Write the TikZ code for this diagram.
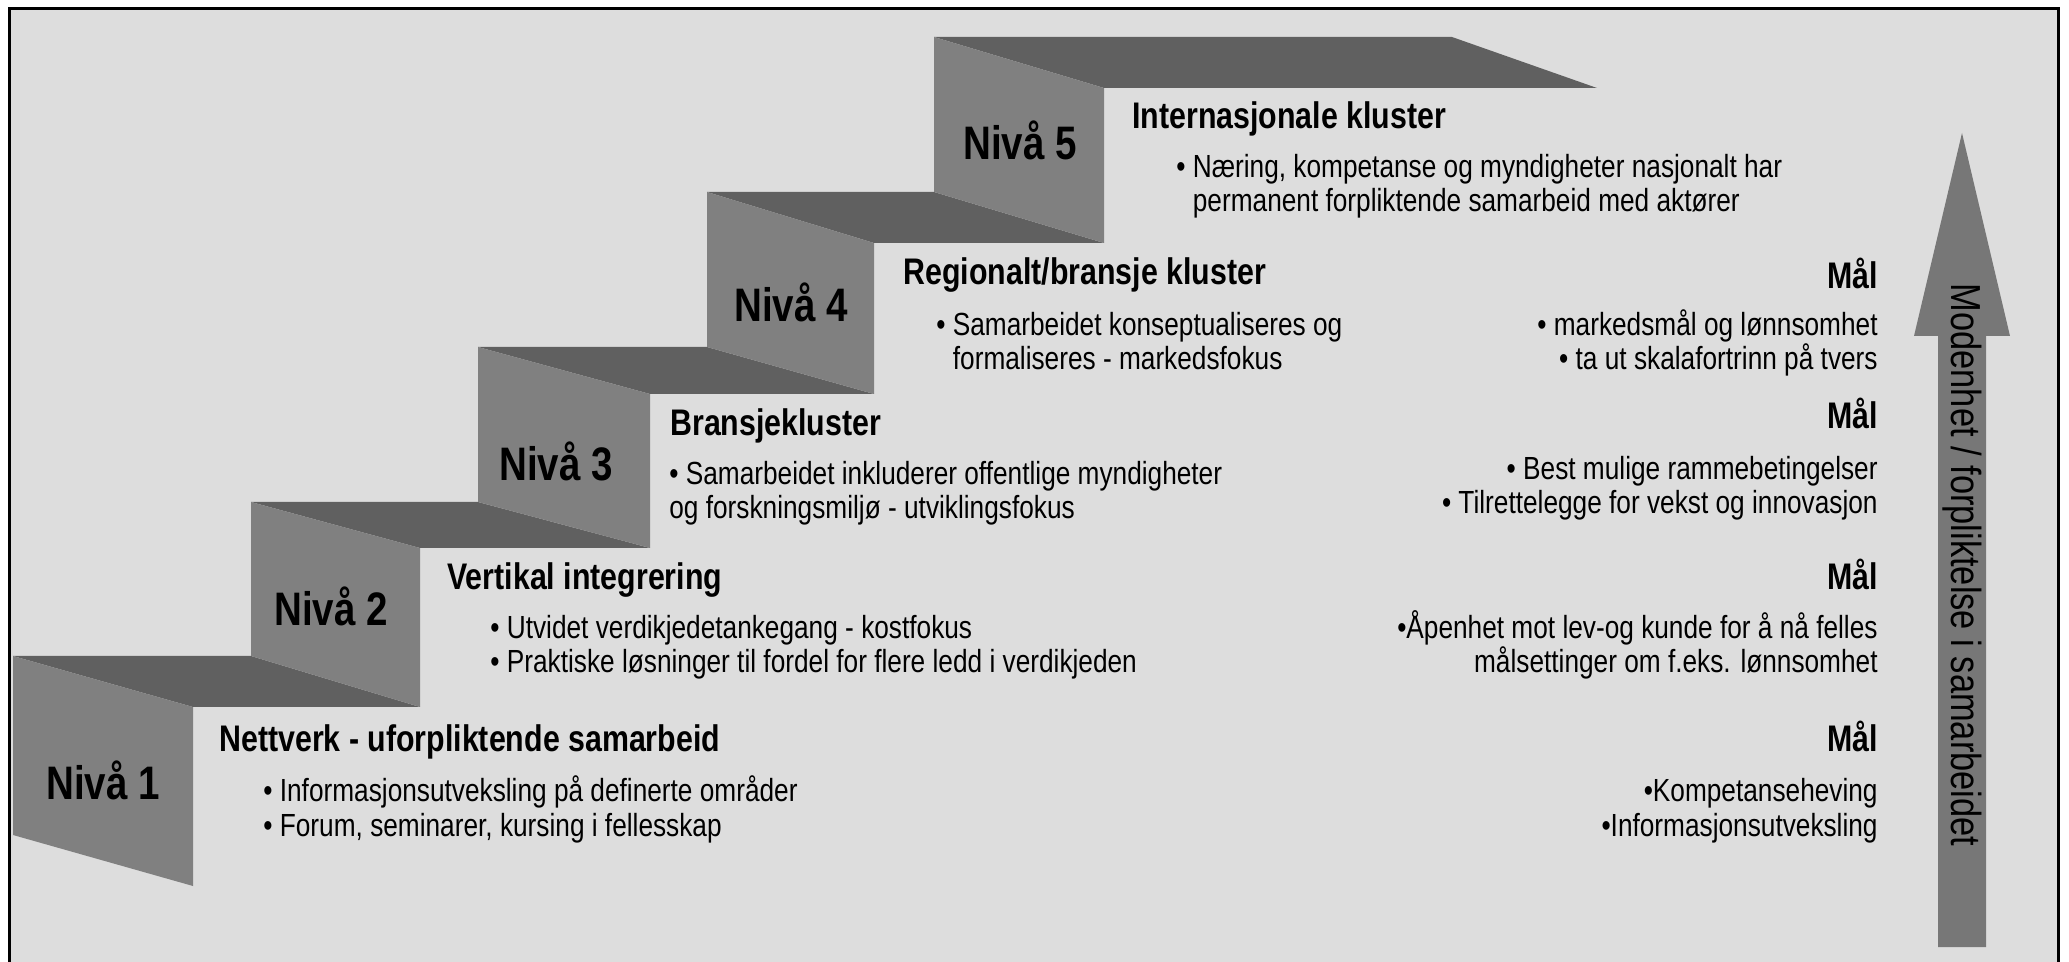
\documentclass[tikz,border=0pt]{standalone}
\usepackage{fontspec}
\setmainfont{Liberation Sans}[FakeStretch=0.82]
\definecolor{backgr}{HTML}{DDDDDD}
\definecolor{riserg}{HTML}{808080}
\definecolor{treadg}{HTML}{606060}
\definecolor{arrowg}{HTML}{777777}
\begin{document}
\begin{tikzpicture}[x=0.5pt, y=-0.5pt,
    riser/.style ={fill=riserg},
    tread/.style ={fill=treadg},
    level/.style ={font=\fontsize{23.5}{28}\selectfont\bfseries, anchor=base},
    heading/.style ={font=\fontsize{18.5}{22}\selectfont\bfseries, anchor=base west, inner sep=0pt},
    bodytext/.style ={font=\fontsize{16}{17.25}\selectfont, align=left, anchor=base west, inner sep=0pt},
    goal/.style ={font=\fontsize{18.5}{22}\selectfont\bfseries, anchor=base east, inner sep=0pt},
    goaltext/.style ={font=\fontsize{16}{17.25}\selectfont, align=right, anchor=base east, inner sep=0pt}]
   \useasboundingbox (0,0) rectangle (2069,962);
   \fill[backgr] (9.5,8.5) rectangle (2058.5,962);
   \draw[line width=1.5pt] (9.5,975) -- (9.5,8.5) -- (2058.5,8.5) -- (2058.5,975);
   % treads
   \fill[tread] (13,656) -- (251,656) -- (420,707) -- (193,707) -- cycle;
   \fill[tread] (251,502) -- (478,502) -- (650,548) -- (420,548) -- cycle;
   \fill[tread] (478,347) -- (707,347) -- (874,394) -- (650,394) -- cycle;
   \fill[tread] (707,192) -- (934,192) -- (1104,243) -- (874,243) -- cycle;
   \fill[tread] (934,37) -- (1452,37) -- (1597,88) -- (1104,88) -- cycle;
   % risers
   \fill[riser] (13,656) -- (193,707) -- (193,886) -- (13,835) -- cycle;
   \fill[riser] (251,502) -- (420,548) -- (420,707) -- (251,656) -- cycle;
   \fill[riser] (478,347) -- (650,394) -- (650,548) -- (478,502) -- cycle;
   \fill[riser] (707,192) -- (874,243) -- (874,394) -- (707,347) -- cycle;
   \fill[riser] (934,37) -- (1104,88) -- (1104,243) -- (934,192) -- cycle;
   \node[level] (n1) at (103,799) {Nivå 1};
   \node[level] (n2) at (331,626) {Nivå 2};
   \node[level] (n3) at (556,481) {Nivå 3};
   \node[level] (n4) at (791,322) {Nivå 4};
   \node[level] (n5) at (1020,160) {Nivå 5};
   \node[heading] (h1) at (219,751) {Nettverk - uforpliktende samarbeid};
   \node[heading] (h2) at (447,590) {Vertikal integrering};
   \node[heading] (h3) at (670,436) {Bransjekluster};
   \node[heading] (h4) at (903,285) {Regionalt/bransje kluster};
   \node[heading] (h5) at (1132,129) {Internasjonale kluster};
   \node[bodytext] (b1) at (263,836) {• Informasjonsutveksling på definerte områder\\• Forum, seminarer, kursing i fellesskap};
   \node[bodytext] (b2) at (490,673) {• Utvidet verdikjedetankegang - kostfokus\\• Praktiske løsninger til fordel for flere ledd i verdikjeden};
   \node[bodytext] (b3) at (669,519) {• Samarbeidet inkluderer offentlige myndigheter\\og forskningsmiljø - utviklingsfokus};
   \node[bodytext] (b4) at (936,370) {• Samarbeidet konseptualiseres og\\\phantom{•\ }formaliseres - markedsfokus};
   \node[bodytext] (b5) at (1176,212) {• Næring, kompetanse og myndigheter nasjonalt har\\\phantom{•\ }permanent forpliktende samarbeid med aktører};
   % goals
   \node[goal] (g4) at (1878,289) {Mål};
   \node[goaltext] (t4) at (1878,370) {• markedsmål og lønnsomhet\\• ta ut skalafortrinn på tvers};
   \node[goal] (g3) at (1878,429) {Mål};
   \node[goaltext] (t3) at (1878,514) {• Best mulige rammebetingelser\\• Tilrettelegge for vekst og innovasjon};
   \node[goal] (g2) at (1878,590) {Mål};
   \node[goaltext] (t2) at (1878,673) {•Åpenhet mot lev-og kunde for å nå felles\\målsettinger om f.eks. lønnsomhet};
   \node[goal] (g1) at (1878,751) {Mål};
   \node[goaltext] (t1) at (1878,836) {•Kompetanseheving\\•Informasjonsutveksling};
   % maturity arrow
   \fill[arrowg] (1938,947) -- (1938,336) -- (1914,336) -- (1962,133) -- (2010,336) -- (1986,336) -- (1986,947) -- cycle;
   \node[font=\fontsize{21}{25}\selectfont, rotate=-90] (axis) at (1962,565) {Modenhet / forpliktelse i samarbeidet};
\end{tikzpicture}
\end{document}
